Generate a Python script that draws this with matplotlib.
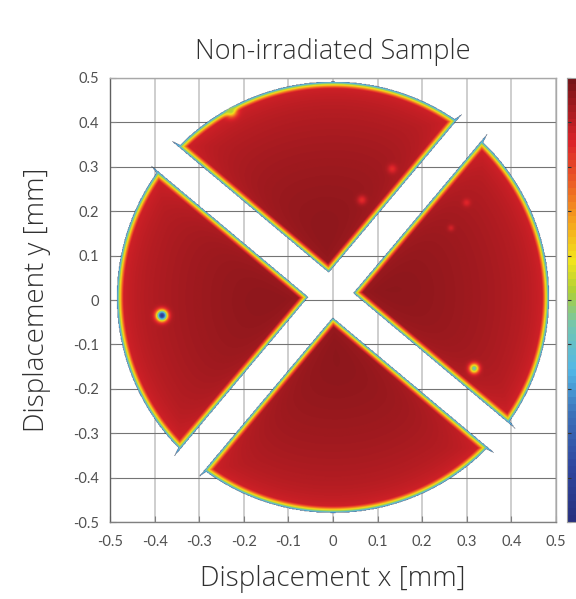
import numpy as np
import matplotlib
matplotlib.use('Agg')
import matplotlib.pyplot as plt
from matplotlib.colors import LinearSegmentedColormap

# disk sample geometry [mm]
disk_cx, disk_cy, disk_r = 0.0, 0.005, 0.485
cut_cx, cut_cy = -0.005, 0.01
cut_angles = [50.0, -40.0]   # directions of the two cuts (deg)
cut_half = 0.036
edge_w = 0.015
spike_w, spike_len = 0.005, 0.02

# small defects on the surface
spot_x = [-0.384, 0.317, -0.229, 0.065, 0.133, 0.300, 0.265]
spot_y = [-0.036, -0.155, 0.424, 0.224, 0.294, 0.218, 0.161]
spot_val = [0.06, 0.42, 0.52, 0.84, 0.84, 0.85, 0.87]
spot_sig = [0.0085, 0.0075, 0.009, 0.007, 0.007, 0.006, 0.005]

ticks = np.round(np.arange(-0.5, 0.51, 0.1), 1)
tick_labels = ['-0.5', '-0.4', '-0.3', '-0.2', '-0.1', '0', '0.1', '0.2', '0.3', '0.4', '0.5']

# muted jet
cb_pos = [0.0, 0.12, 0.24, 0.34, 0.44, 0.52, 0.59, 0.68, 0.77, 0.86, 1.0]
cb_col = ['#28307f', '#2f47a0', '#3c72ba', '#52b8e8', '#74c6b0', '#aed036',
          '#f3e51c', '#f6a21d', '#ec5a25', '#dc2229', '#761418']
cmap = LinearSegmentedColormap.from_list('mjet', list(zip(cb_pos, cb_col)), N=256)
cmap_bar = LinearSegmentedColormap.from_list('mjet64', list(zip(cb_pos, cb_col)), N=64)

n = 700
xs = np.linspace(-0.5, 0.5, n)
X, Y = np.meshgrid(xs, xs)
rr = np.hypot(X - disk_cx, Y - disk_cy)
s = disk_r - rr
spikes = np.full_like(X, -1.0)
taper = spike_w * (1 - (rr - disk_r) / spike_len)
for a in cut_angles:
    t = np.deg2rad(a)
    dist = np.abs(-np.sin(t) * (X - cut_cx) + np.cos(t) * (Y - cut_cy))
    e = dist - cut_half
    s = np.minimum(s, e)
    sp = np.minimum(taper - e, e)
    sp[(rr < disk_r - 0.002) | (rr > disk_r + spike_len)] = -1
    spikes = np.maximum(spikes, sp)
s = np.maximum(s, spikes)

base = 0.975 - 0.08 * (rr / disk_r) ** 2 - 0.04 * np.exp(-np.clip(s, 0, None) / 0.025)
tt = np.clip(s / edge_w, 0, 1)
v = 0.2 + (base - 0.2) * tt ** 0.65
for sx, sy, sv, sg in zip(spot_x, spot_y, spot_val, spot_sig):
    g = np.exp(-((X - sx) ** 2 + (Y - sy) ** 2) / (2 * sg ** 2))
    v = v - (v - sv) * g
v = np.ma.masked_where(s < 0, v)

fig = plt.figure(figsize=(5.76, 5.99), dpi=100)
ax = fig.add_axes([0.191, 0.1285, 0.774, 0.7413])
ax.imshow(v, cmap=cmap, vmin=0, vmax=1, origin='lower',
          extent=[-0.5, 0.5, -0.5, 0.5], interpolation='antialiased', zorder=1)
ax.set_xlim(-0.5, 0.5)
ax.set_ylim(-0.5, 0.5)
ax.set_aspect('auto')
ax.set_axisbelow(True)
ax.xaxis.grid(True, color='#c6c6c6', lw=1.2)
ax.yaxis.grid(True, color='#747474', lw=0.8)
ax.set_xticks(ticks)
ax.set_xticklabels(tick_labels)
ax.set_yticks(ticks)
ax.set_yticklabels(tick_labels)
ax.tick_params(direction='in', length=4, color='#808080', labelcolor='#505050',
               labelsize=10.5, top=False, right=False)
ax.tick_params(axis='x', pad=9)
ax.tick_params(axis='y', pad=8)
for sp in ax.spines.values():
    sp.set_color('#a8a8a8')
    sp.set_linewidth(1.0)
ax.spines['left'].set_color('#606060')
ax.spines['bottom'].set_color('#808080')
for lab in ax.get_xticklabels() + ax.get_yticklabels():
    lab.set_family(['Lato', 'DejaVu Sans'])

lab_font = dict(color='#303030', family=['Open Sans', 'DejaVu Sans'], weight='light')
ax.set_xlabel('Displacement x [mm]', fontsize=20, labelpad=12, **lab_font)
ax.set_ylabel('Displacement y [mm]', fontsize=20, labelpad=16, **lab_font)
ax.set_title('Non-irradiated Sample', fontsize=19.5, pad=14, **lab_font)

cax = fig.add_axes([0.984, 0.1285, 0.04, 0.7413])
cax.imshow(np.linspace(0, 1, 64)[:, None], cmap=cmap_bar, vmin=0, vmax=1,
           origin='lower', aspect='auto', extent=[0, 1, 0, 1])
cax.set_xticks([])
cax.set_yticks(np.linspace(0, 1, 11))
cax.set_yticklabels([])
cax.tick_params(direction='in', length=3, color='#333333', left=True, right=False)
for sp in cax.spines.values():
    sp.set_color('#a0a0a0')

fig.savefig('out.png', dpi=100)
